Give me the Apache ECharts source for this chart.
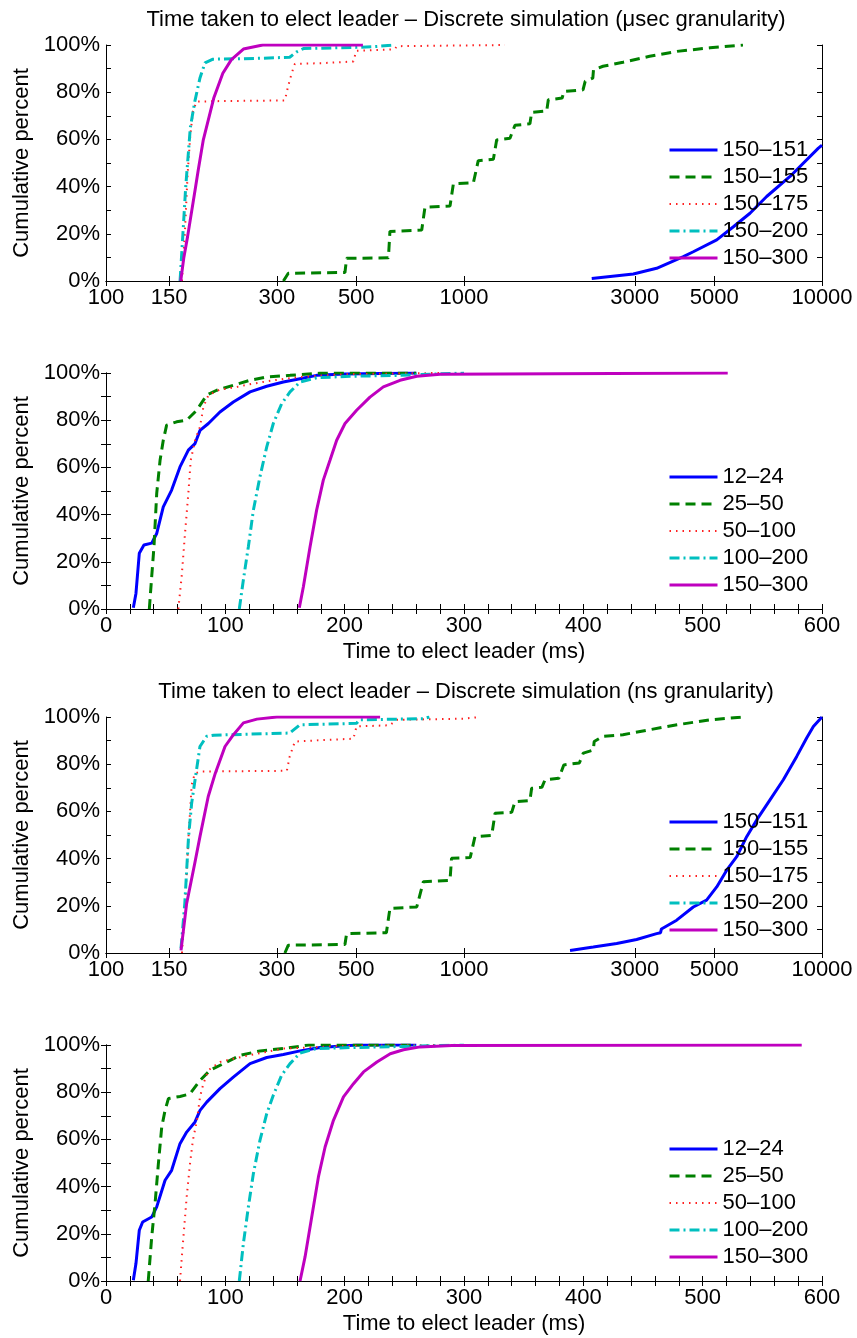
<!DOCTYPE html>
<html>
<head>
<meta charset="utf-8">
<script src="https://cdn.jsdelivr.net/npm/echarts@6/dist/echarts.min.js"></script>
<style>
  html, body { margin: 0; padding: 0; background: #fff; }
  #chart { width: 857px; height: 1338px; }
</style>
</head>
<body>
<div id="chart"></div>
<script>
// Cumulative distribution of leader-election time, [time, cumulative %]

// Discrete simulation, microsecond granularity (log time axis)
const usec_150_151 = [[2274,1.1],[2972,3],[3452,5.4],[4099,10.3],[4370,12.4],[5081,17.4],[5656,23],[6293,28.7],[7005,35.8],[8141,44.3],[9771,56.3],[10000,57.5]];
const usec_150_155 = [[313,0],[323,3.3],[465,3.6],[470,9.6],[615,9.8],[621,21],[762,21.6],[778,31.3],[914,31.8],[934,41.2],[1062,41.6],[1096,51],[1208,51.6],[1234,59.8],[1344,60.5],[1388,66],[1528,66.6],[1545,71.5],[1702,72],[1720,76.8],[1880,77.5],[1900,80.3],[2150,81],[2180,84.6],[2290,86],[2300,89.5],[2445,91],[2780,92.7],[3300,95.2],[3936,97.3],[4867,98.8],[6015,100]];
const usec_150_175 = [[163,0],[166,20],[169,45],[172,62],[175,72],[179,76],[200,76.2],[316,76.5],[322,82],[330,88],[337,92],[400,92.3],[491,93],[500,97.5],[640,98.2],[650,99.5],[1302,100]];
const usec_150_200 = [[161,0],[164,20],[167,40],[169,50],[172,65],[177,76],[183,86],[189,92.4],[199,94],[260,94.3],[326,94.8],[340,97],[356,98.5],[500,99],[560,99.3],[642,100]];
const usec_150_300 = [[161.7,0],[165,10],[169,18.8],[178,40],[181,47],[187,59.8],[200,77.5],[212,88],[224,93.8],[242,98.3],[274,100],[522,100]];

// Discrete simulation, millisecond axis (µsec granularity)
const ms1_12_24 = [[22.9,0.5],[25.1,6.6],[27.9,23.6],[31.8,27.1],[38.3,27.9],[42.5,32],[48,43.3],[55,50.4],[62,60.2],[69,67.3],[74.6,70.1],[78.8,75.7],[85.8,78.6],[95.5,83.5],[106.7,87.7],[120.7,92],[134.7,94.4],[148.6,96.2],[162.6,97.6],[176.5,99],[200,99.6],[260,100]];
const ms1_25_50 = [[36.3,0],[38.3,13.7],[40.2,26.4],[42.5,49],[45.3,63],[48,71.5],[50.8,77.9],[59.2,79.3],[67.6,80],[76,84.2],[84.4,90.6],[92.8,92.7],[106.7,94.8],[120.7,96.9],[134.7,98.3],[154.2,99],[180,100],[260,100]];
const ms1_50_100 = [[60.6,0],[63.4,13.7],[66.2,32],[69,49],[71,63],[74.6,71.5],[78.8,77.2],[81.6,85.6],[85.8,90.6],[95.5,93],[106.7,93.8],[123.4,95.5],[140.2,96.9],[162.6,98.3],[200,99.5],[280,100]];
const ms1_100_200 = [[111.7,0],[115.1,12.3],[119.3,26.4],[123.5,41.9],[129,56],[134.7,68.7],[140.2,78.6],[147.2,87],[154.2,92],[162.6,96.2],[176.5,98],[204.5,98.6],[246.4,99],[300,100]];
const ms1_150_300 = [[162,0.5],[165.4,9.4],[171,26.4],[176.5,41.9],[182.1,54.6],[187.7,63],[193.3,71.5],[200.3,78.6],[210,84.2],[221.2,89.8],[232.4,94.1],[246.4,96.9],[260.4,98.6],[280,99.5],[521,100]];

// Discrete simulation, nanosecond granularity (log time axis)
const nsec_150_151 = [[1978,1.1],[2297,2.5],[2670,4],[3035,5.7],[3452,8.2],[3540,8.6],[3560,10.2],[3603,10.4],[3927,13.9],[4370,19.5],[4760,22.4],[5081,28],[5418,35.1],[5778,40.8],[6160,49.3],[6570,56.4],[7157,64.9],[7798,73.4],[8500,83.3],[9060,91.1],[9460,96],[10000,100]];
const nsec_150_155 = [[316,0],[323,3.3],[465,3.6],[470,8.2],[607,8.6],[621,18.9],[738,19.5],[770,30.2],[914,30.8],[923,40.1],[1041,40.5],[1073,49.3],[1195,49.8],[1221,59.2],[1359,59.6],[1388,64.1],[1528,64.6],[1545,69.8],[1650,70.2],[1684,73.4],[1840,74],[1900,79.7],[2100,80.5],[2154,84.7],[2297,86],[2310,89.6],[2445,91.8],[2780,92.5],[3300,94.6],[3936,96.7],[4867,98.8],[6015,100]];
const nsec_150_175 = [[163,0],[166,18],[170,49],[173.5,71.2],[177,76],[183,76.9],[320,77.2],[326,83.3],[337,89.6],[400,90.2],[491,90.8],[501,96],[620,96.5],[650,98.8],[1000,99.3],[1108,100]];
const nsec_150_200 = [[162,2],[166,21],[170,49],[173.5,63.5],[179,77.6],[183,87.5],[191,91.8],[200,92.3],[326,93.2],[348,96.7],[501,97.3],[510,98.8],[769,99.3],[800,100]];
const nsec_150_300 = [[162,1.1],[168,21],[177,38],[183,49.3],[193,66.3],[202,76.2],[215,87.5],[227,92.5],[242,97.5],[264,99.1],[300,100],[583,100]];

// Discrete simulation, millisecond axis (ns granularity)
const ms2_12_24 = [[22.9,0.3],[25.1,7.4],[27.9,21.5],[30.7,25],[38.3,27.1],[42.5,31.4],[49.5,42.7],[55,46.9],[62,58.2],[67.6,63.1],[74.6,67.4],[78.8,72.3],[84.4,75.8],[95.5,81.5],[106.7,86.4],[120.7,92.1],[134.7,94.7],[148.6,96],[162.6,97.5],[179.3,98.9],[210,100],[260,100]];
const ms2_25_50 = [[35.4,0],[38.3,18.6],[41.1,32.8],[43.9,49.7],[46.7,65.3],[49.5,72.3],[52.3,77.3],[62,78.2],[70.4,79.3],[78.8,85],[87.2,89.3],[98.4,92.1],[112.3,95.6],[129.1,97.5],[148.6,98.5],[170,100],[260,100]];
const ms2_50_100 = [[62,0],[64.2,14.4],[67.6,35.6],[70.4,49.7],[72.8,59.6],[76.2,68.1],[78.8,78],[81.6,83.6],[85.8,89.3],[95.5,92.8],[106.7,94.2],[123.4,96],[148.6,98.5],[200,99.6],[280,100]];
const ms2_100_200 = [[111.7,0],[115.1,15.8],[119.3,31.4],[123.5,45.5],[129,59.6],[134.7,70.9],[140.2,78.7],[147.2,87.2],[154.2,92.1],[162.6,96.6],[176.5,98.5],[204.5,98.9],[250,99.4],[300,100]];
const ms2_150_300 = [[162.6,0],[166.8,10.2],[172.4,27.1],[178,44.1],[183.6,56.8],[190.6,68.1],[199,78],[207.4,83.6],[215.8,88.6],[227,92.8],[238.2,96.3],[249.3,98],[263.3,99.2],[290,99.8],[583,100]];

// Legend names and tick labels
const namesLog = ['150–151', '150–155', '150–175', '150–200', '150–300'];
const namesLin = ['12–24', '25–50', '50–100', '100–200', '150–300'];
const logTicks = [100, 150, 300, 500, 1000, 3000, 5000, 10000];
const titles = [
  'Time taken to elect leader – Discrete simulation (μsec granularity)',
  'Time taken to elect leader – Discrete simulation (ns granularity)'
];
const xName = 'Time to elect leader (ms)';
const yName = 'Cumulative percent';

const FONT = '"Liberation Sans", Arial, Helvetica, sans-serif';
const styles = [
  { color: '#0000ff', width: 3, type: 'solid' },
  { color: '#008000', width: 3, type: [10, 6] },
  { color: '#ff2020', width: 2, type: [1.5, 5] },
  { color: '#00bfbf', width: 3, type: [10, 4, 2, 4] },
  { color: '#bf00bf', width: 3, type: 'solid' }
];

const panels = [
  { log: true,  top: 45,   names: namesLog, data: [usec_150_151, usec_150_155, usec_150_175, usec_150_200, usec_150_300], legendTop: 139 },
  { log: false, top: 373,  names: namesLin, data: [ms1_12_24, ms1_25_50, ms1_50_100, ms1_100_200, ms1_150_300], legendTop: 466 },
  { log: true,  top: 717,  names: namesLog, data: [nsec_150_151, nsec_150_155, nsec_150_175, nsec_150_200, nsec_150_300], legendTop: 811 },
  { log: false, top: 1045, names: namesLin, data: [ms2_12_24, ms2_25_50, ms2_50_100, ms2_100_200, ms2_150_300], legendTop: 1138 }
];

const axisLine = { show: true, lineStyle: { color: '#000', width: 1 } };
const tickStyle = { inside: true, length: 5, lineStyle: { color: '#000', width: 1 } };
const labelText = { fontFamily: FONT, fontSize: 22, color: '#000' };

const grid = [], xAxis = [], yAxis = [], series = [], legend = [];

panels.forEach((p, i) => {
  grid.push({ left: 106, top: p.top, width: 716, height: 236 });
  ['bottom', 'top'].forEach(pos => {
    const main = pos === 'bottom';
    const ax = {
      gridIndex: i, position: pos,
      axisLine, splitLine: { show: false },
      name: main && !p.log ? xName : '',
      nameLocation: 'middle', nameGap: 32,
      nameTextStyle: labelText
    };
    if (p.log) {
      Object.assign(ax, {
        type: 'log', logBase: 10, min: 100, max: 10000,
        axisTick: Object.assign({ customValues: logTicks }, tickStyle),
        axisLabel: Object.assign({ show: main, margin: 6, customValues: logTicks,
          showMinLabel: true, showMaxLabel: true, formatter: v => String(Math.round(v)) }, labelText)
      });
    } else {
      Object.assign(ax, {
        type: 'value', min: 0, max: 600, interval: 20,
        axisTick: tickStyle,
        axisLabel: Object.assign({ show: main, margin: 6,
          formatter: v => (v % 100 === 0 ? String(v) : '') }, labelText)
      });
    }
    xAxis.push(ax);
  });
  ['left', 'right'].forEach(pos => {
    const main = pos === 'left';
    yAxis.push({
      gridIndex: i, position: pos, type: 'value', min: 0, max: 100, interval: 10,
      axisLine, splitLine: { show: false }, axisTick: tickStyle,
      axisLabel: Object.assign({ show: main, margin: 6,
        formatter: v => (v % 20 === 0 ? v + '%' : '') }, labelText),
      name: main ? yName : '', nameLocation: 'middle', nameGap: 67,
      nameTextStyle: labelText
    });
  });
  p.data.forEach((d, k) => {
    series.push({
      type: 'line', name: p.names[k],
      xAxisIndex: i * 2, yAxisIndex: i * 2,
      data: d, symbol: 'none', showSymbol: false, clip: true,
      lineStyle: styles[k], itemStyle: { color: styles[k].color },
      emphasis: { disabled: true }, z: 2 + k
    });
  });
  legend.push({
    orient: 'vertical', left: 668, top: p.legendTop, padding: 0,
    itemWidth: 48, itemHeight: 22, itemGap: 5,
    data: p.names, selectedMode: false,
    itemStyle: { opacity: 0 },
    lineStyle: { width: 'inherit' },
    textStyle: Object.assign({ lineHeight: 22 }, labelText)
  });
});

const chart = echarts.init(document.getElementById('chart'), null, { renderer: 'canvas' });
chart.setOption({
  animation: false,
  backgroundColor: '#fff',
  grid, xAxis, yAxis, series, legend,
  graphic: [
    { type: 'text', x: 466, y: 20, style: Object.assign({ text: titles[0], align: 'center', verticalAlign: 'middle' }, labelText) },
    { type: 'text', x: 466, y: 692, style: Object.assign({ text: titles[1], align: 'center', verticalAlign: 'middle' }, labelText) }
  ]
});
</script>
</body>
</html>
